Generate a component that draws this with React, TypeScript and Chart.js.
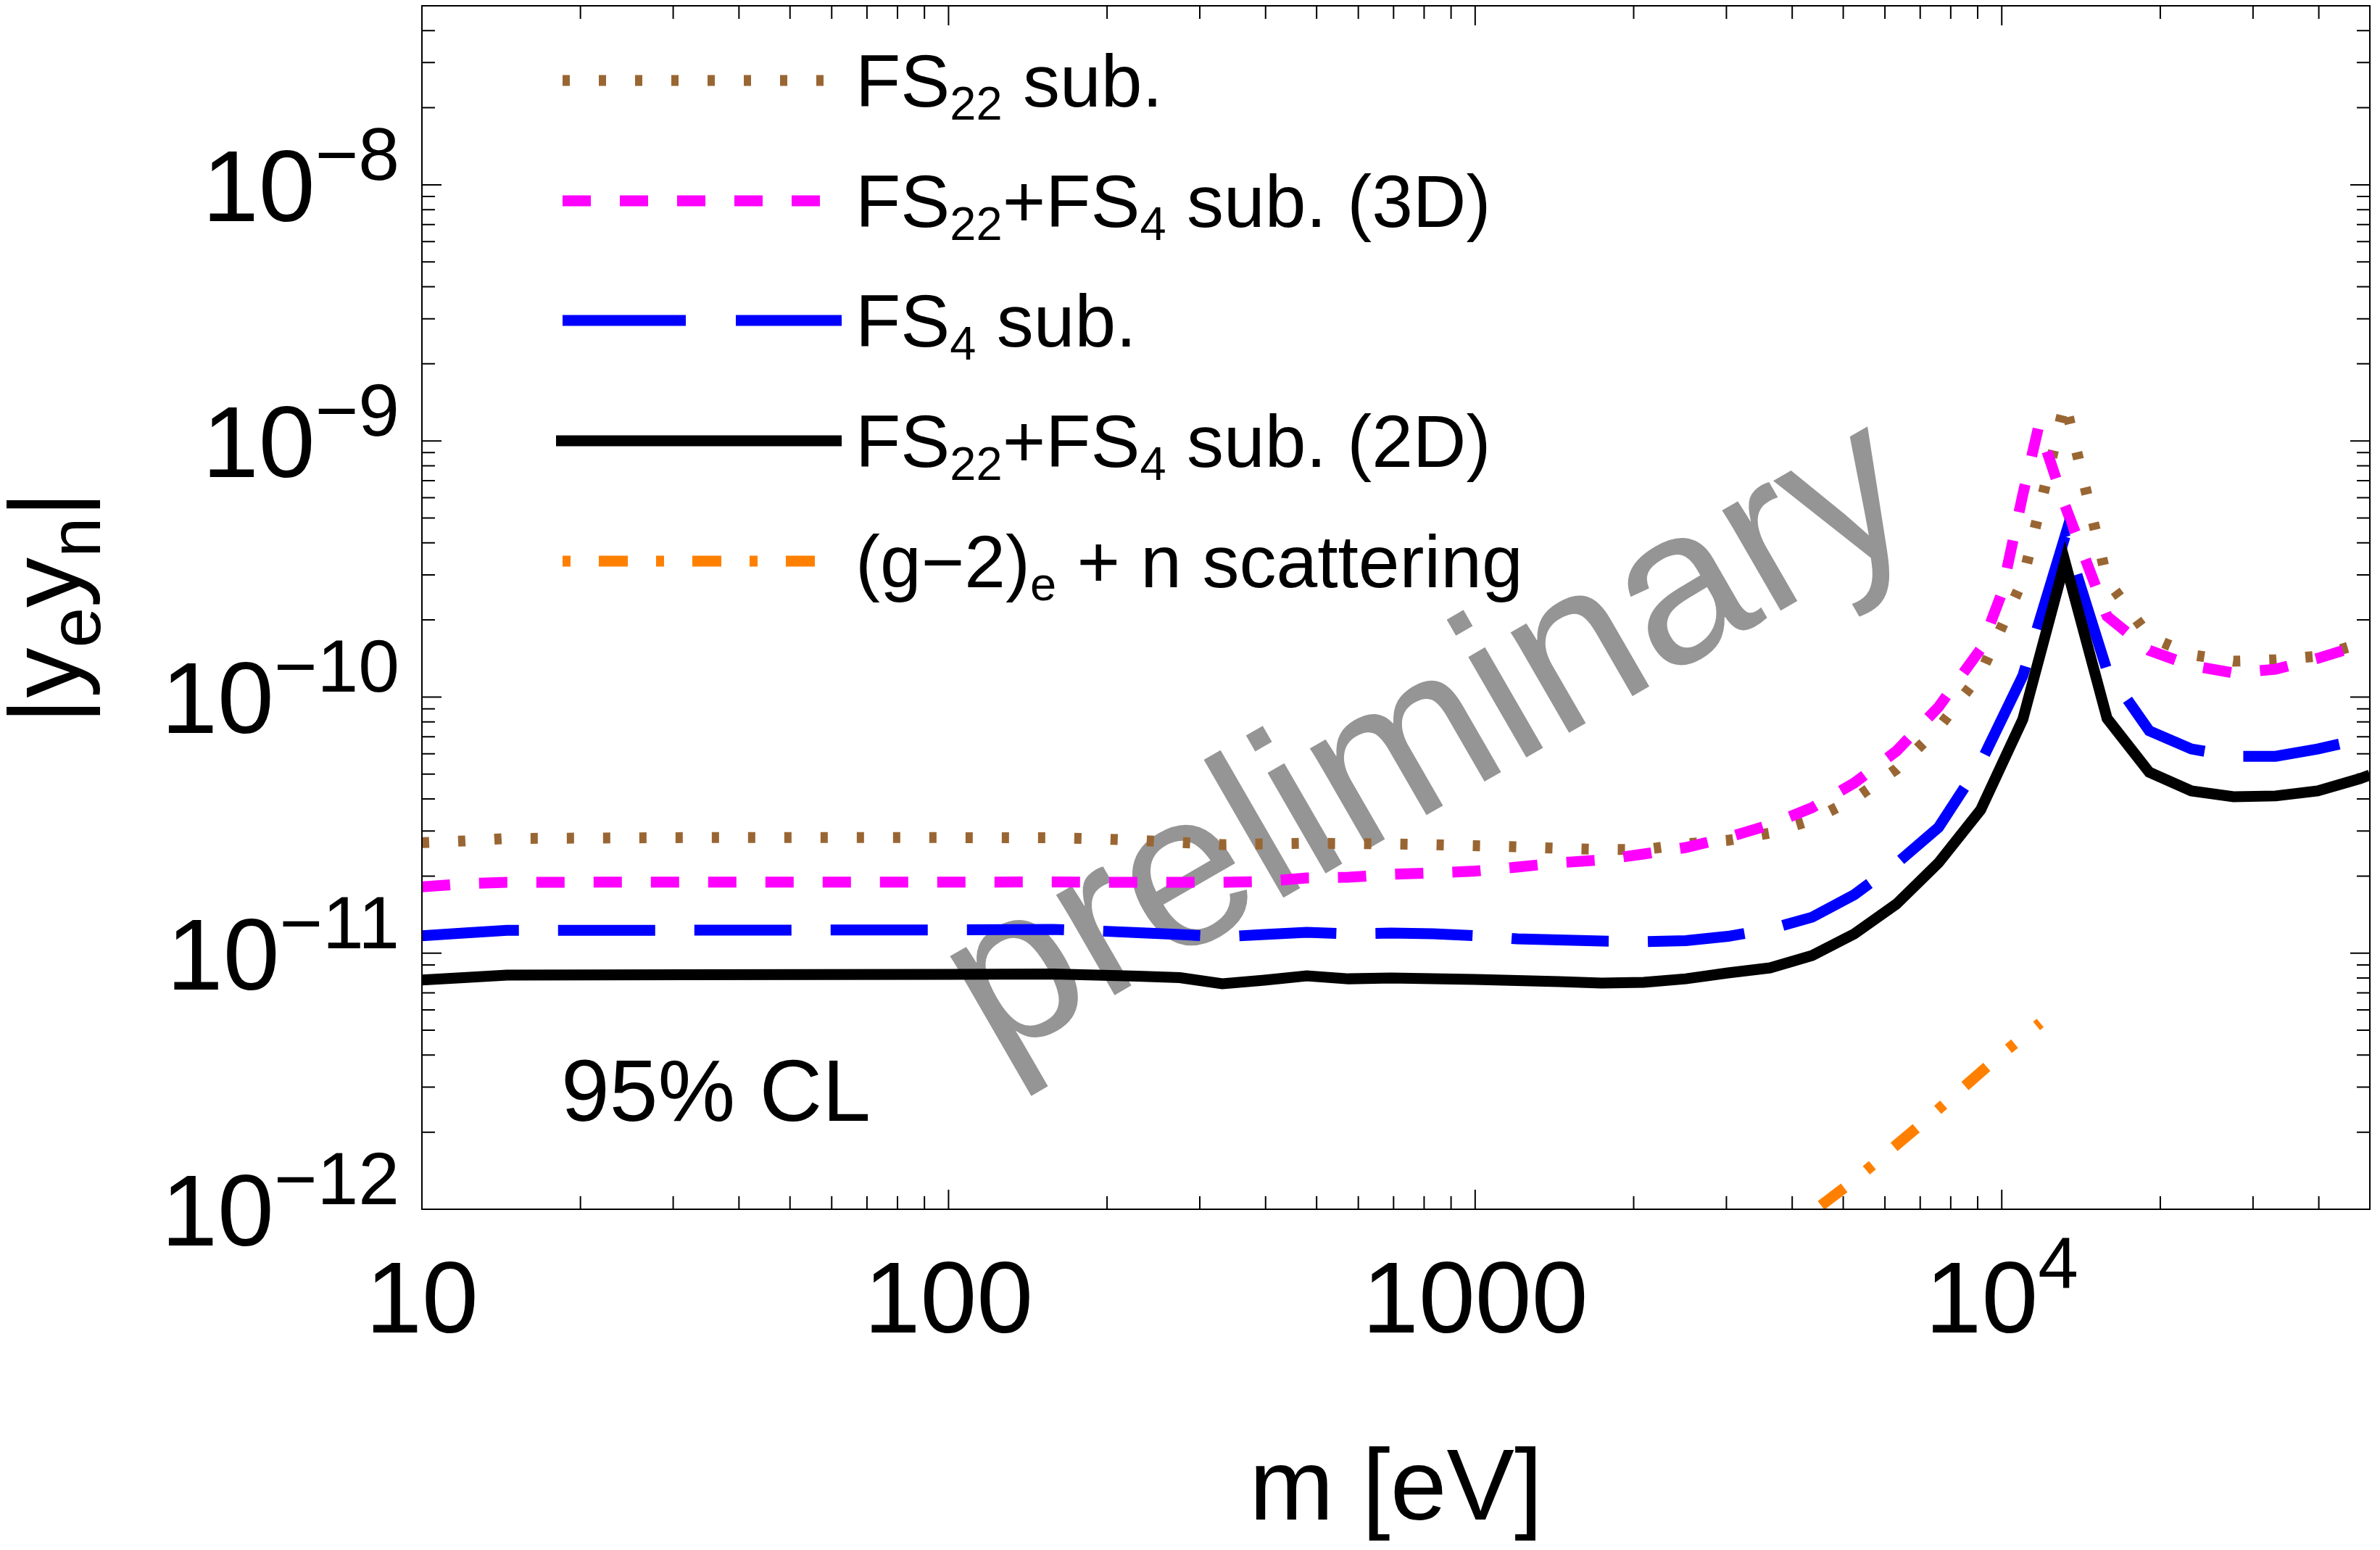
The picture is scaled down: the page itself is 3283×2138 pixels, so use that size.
import React, { useEffect, useRef } from "react";
import { Chart, registerables } from "chart.js";

Chart.register(...registerables);

// ---------------- data ----------------
// mass grid (eV) shared by most curves
const massGrid = [
  10, 12, 14.5, 31.6, 100, 158, 191, 229, 275, 331, 398, 479, 575, 692, 832,
  1000, 1202, 1445, 1738, 2089, 2512, 3020, 3631, 4365, 5248, 6310, 7586, 9120,
  10965, 13183, 15849, 19055, 22909, 27542, 33113, 39811, 47863, 50000,
];

// FS22 sub. (brown dotted)
const fs22Sub = [
  2.70e-11, 2.741e-11, 2.804e-11, 2.826e-11, 2.826e-11, 2.822e-11, 2.795e-11,
  2.759e-11, 2.705e-11, 2.653e-11, 2.67e-11, 2.688e-11, 2.679e-11, 2.67e-11,
  2.653e-11, 2.627e-11, 2.601e-11, 2.567e-11, 2.542e-11, 2.534e-11, 2.67e-11,
  2.759e-11, 2.944e-11, 3.311e-11, 4.0e-11, 5.23e-11, 7.58e-11, 1.235e-10,
  2.863e-10, 1.42e-9, 2.863e-10, 1.722e-10, 1.463e-10, 1.38e-10, 1.398e-10,
  1.444e-10, 1.613e-10, 1.667e-10,
];

// FS22+FS4 sub. (3D) (magenta dashed) - own mass list near the peak
const massFs22Fs4_3D = [
  10, 12, 14.5, 31.6, 100, 158, 191, 229, 275, 331, 398, 479, 575, 692, 832,
  1000, 1202, 1445, 1738, 2089, 2512, 3020, 3631, 4365, 5248, 6310, 7586, 9120,
  10000, 10965, 11750, 13183, 15849, 19055, 22909, 27542, 33113, 39811, 47863,
  50000,
];
const fs22Fs4Sub3D = [
  1.814e-11, 1.866e-11, 1.891e-11, 1.894e-11, 1.894e-11, 1.897e-11, 1.891e-11,
  1.891e-11, 1.891e-11, 1.891e-11, 1.903e-11, 1.966e-11, 1.978e-11, 2.031e-11,
  2.058e-11, 2.091e-11, 2.168e-11, 2.254e-11, 2.313e-11, 2.438e-11, 2.585e-11,
  2.831e-11, 3.174e-11, 3.7e-11, 4.62e-11, 6.15e-11, 9.15e-11, 1.541e-10,
  2.546e-10, 6.18e-10, 1.14e-9, 5.6e-10, 2.067e-10, 1.522e-10, 1.327e-10,
  1.243e-10, 1.284e-10, 1.416e-10, 1.592e-10, 1.645e-10,
];

// FS4 sub. (blue long dashes)
const fs4Sub = [
  1.169e-11, 1.198e-11, 1.227e-11, 1.229e-11, 1.233e-11, 1.238e-11, 1.222e-11,
  1.202e-11, 1.182e-11, 1.159e-11, 1.182e-11, 1.206e-11, 1.19e-11, 1.198e-11,
  1.19e-11, 1.169e-11, 1.137e-11, 1.126e-11, 1.115e-11, 1.108e-11, 1.119e-11,
  1.163e-11, 1.242e-11, 1.382e-11, 1.692e-11, 2.239e-11, 3.1e-11, 5.54e-11,
  1.211e-10, 4.23e-10, 1.268e-10, 7.38e-11, 6.27e-11, 5.87e-11, 5.87e-11,
  6.27e-11, 6.83e-11, 7.0e-11,
];

// FS22+FS4 sub. (2D) (black solid)
const fs22Fs4Sub2D = [
  7.86e-12, 8.03e-12, 8.21e-12, 8.24e-12, 8.26e-12, 8.29e-12, 8.21e-12,
  8.13e-12, 8.02e-12, 7.59e-12, 7.84e-12, 8.15e-12, 7.94e-12, 8.0e-12,
  7.94e-12, 7.89e-12, 7.82e-12, 7.74e-12, 7.64e-12, 7.69e-12, 7.94e-12,
  8.37e-12, 8.76e-12, 9.79e-12, 1.19e-11, 1.555e-11, 2.254e-11, 3.63e-11,
  8.19e-11, 3.38e-10, 8.25e-11, 5.09e-11, 4.3e-11, 4.08e-11, 4.11e-11,
  4.3e-11, 4.8e-11, 4.96e-11,
];

// (g-2)_e + n scattering (orange dot-dashed)
const massG2n = [4000, 5280, 7200, 9800, 11830];
const g2nScattering = [8.5e-13, 1.31e-12, 2.24e-12, 3.9e-12, 5.34e-12];

// axis ticks
const xMajorTicks = [10, 100, 1000, 10000];
const xTickLabels = [["10", ""], ["100", ""], ["1000", ""], ["10", "4"]];
const yMajorTicks = [1e-12, 1e-11, 1e-10, 1e-9, 1e-8];
const yTickLabels = [
  ["10", "\u221212"],
  ["10", "\u221211"],
  ["10", "\u221210"],
  ["10", "\u22129"],
  ["10", "\u22128"],
];

// legend labels: [text, isSubscript]
type Seg = [string, boolean];
const legendLabels: Seg[][] = [
  [["FS", false], ["22", true], [" sub.", false]],
  [["FS", false], ["22", true], ["+FS", false], ["4", true], [" sub. (3D)", false]],
  [["FS", false], ["4", true], [" sub.", false]],
  [["FS", false], ["22", true], ["+FS", false], ["4", true], [" sub. (2D)", false]],
  [["(g\u22122)", false], ["e", true], [" + n scattering", false]],
];

// ---------------- styles ----------------
const FONT = '"Liberation Sans", Arial, Helvetica, sans-serif';
const f = (px: number) => `${px}px ${FONT}`;

const seriesStyles = [
  { color: "#996633", dash: [10, 40], legendDash: [10, 40] },
  { color: "#ff00ff", dash: [39, 40], legendDash: [39, 40] },
  { color: "#0000ff", dash: [134, 54], legendDash: [170, 69] },
  { color: "#000000", dash: [], legendDash: [] },
  { color: "#ff8000", dash: [11, 39, 40, 39], legendDash: [11, 39, 40, 39] },
];

const LINE_W = 15;

function drawRich(
  ctx: CanvasRenderingContext2D,
  segs: Seg[],
  x: number,
  y: number,
  size: number,
  subSize: number,
  subShift: number,
  align: "left" | "center"
) {
  let total = 0;
  const widths = segs.map(([t, sub]) => {
    ctx.font = f(sub ? subSize : size);
    const w = ctx.measureText(t).width;
    total += w;
    return w;
  });
  let cx = align === "center" ? x - total / 2 : x;
  ctx.textAlign = "left";
  ctx.textBaseline = "alphabetic";
  segs.forEach(([t, sub], i) => {
    ctx.font = f(sub ? subSize : size);
    ctx.fillText(t, cx, sub ? y + subShift : y);
    cx += widths[i];
  });
}

function drawPow(
  ctx: CanvasRenderingContext2D,
  base: string,
  exp: string,
  x: number,
  y: number,
  align: "right" | "center",
  baseSize: number,
  expSize: number,
  rise: number
) {
  ctx.font = f(baseSize);
  const wb = ctx.measureText(base).width;
  ctx.font = f(expSize);
  const we = exp ? ctx.measureText(exp).width : 0;
  const total = wb + we;
  const x0 = align === "right" ? x - total : x - total / 2;
  ctx.textAlign = "left";
  ctx.textBaseline = "alphabetic";
  ctx.font = f(baseSize);
  ctx.fillText(base, x0, y);
  if (exp) {
    ctx.font = f(expSize);
    ctx.fillText(exp, x0 + wb, y - rise);
  }
}

const overlayPlugin = {
  id: "overlay",
  beforeDatasetsDraw(chart: any) {
    const { ctx, chartArea: a } = chart;
    ctx.save();
    ctx.beginPath();
    ctx.rect(a.left, a.top, a.right - a.left, a.bottom - a.top);
    ctx.clip();
    ctx.translate(2015, 1097);
    ctx.rotate((-30 * Math.PI) / 180);
    ctx.font = f(303);
    ctx.fillStyle = "#959595";
    ctx.textAlign = "center";
    ctx.textBaseline = "alphabetic";
    ctx.fillText("preliminary", 0, 0);
    ctx.restore();
  },
  afterDraw(chart: any) {
    const { ctx, chartArea: a, scales } = chart;
    const xs = scales.x;
    const ys = scales.y;
    ctx.save();
    ctx.setLineDash([]);
    ctx.strokeStyle = "#000";
    ctx.fillStyle = "#000";
    ctx.lineWidth = 2;
    ctx.lineCap = "butt";
    ctx.strokeRect(a.left, a.top, a.right - a.left, a.bottom - a.top);

    const MAJ = 27;
    const MIN = 18;
    const xMax = xs.max;
    const yMax = ys.max;
    // x ticks
    const xTick = (v: number, len: number) => {
      const px = xs.getPixelForValue(v);
      ctx.beginPath();
      ctx.moveTo(px, a.bottom);
      ctx.lineTo(px, a.bottom - len);
      ctx.moveTo(px, a.top);
      ctx.lineTo(px, a.top + len);
      ctx.stroke();
    };
    xMajorTicks.forEach((d) => {
      xTick(d, MAJ);
      for (let k = 2; k <= 9; k++) if (k * d <= xMax) xTick(k * d, MIN);
    });
    const yTick = (v: number, len: number) => {
      const py = ys.getPixelForValue(v);
      ctx.beginPath();
      ctx.moveTo(a.left, py);
      ctx.lineTo(a.left + len, py);
      ctx.moveTo(a.right, py);
      ctx.lineTo(a.right - len, py);
      ctx.stroke();
    };
    yMajorTicks.forEach((d) => {
      yTick(d, MAJ);
      for (let k = 2; k <= 9; k++) if (k * d <= yMax * 1.0001) yTick(k * d, MIN);
    });

    // tick labels
    xMajorTicks.forEach((v, i) => {
      const px = xs.getPixelForValue(v);
      drawPow(ctx, xTickLabels[i][0], xTickLabels[i][1], px, a.bottom + 170, "center", 140, 100, 61);
    });
    yMajorTicks.forEach((v, i) => {
      const py = ys.getPixelForValue(v);
      drawPow(ctx, yTickLabels[i][0], yTickLabels[i][1], a.left - 31, py + 50, "right", 140, 102, 57);
    });

    // axis titles
    ctx.textAlign = "center";
    ctx.font = f(140);
    ctx.fillText("m [eV]", (a.left + a.right) / 2, 2096);
    ctx.save();
    ctx.translate(109, (a.top + a.bottom) / 2);
    ctx.rotate(-Math.PI / 2);
    drawRich(
      ctx,
      [["|", false], ["y", false], ["e", true], ["y", false], ["n", true], ["|", false]],
      0,
      0,
      138,
      100,
      29,
      "center"
    );
    ctx.restore();

    // 95% CL
    ctx.textAlign = "left";
    ctx.font = f(120);
    ctx.fillText("95% CL", 774, 1546);

    // legend
    const baselines = [147, 313, 478, 644, 810];
    legendLabels.forEach((segs, i) => {
      const st = seriesStyles[i];
      const ly = baselines[i] - 36;
      ctx.save();
      ctx.strokeStyle = st.color;
      ctx.lineWidth = LINE_W;
      ctx.lineCap = "butt";
      ctx.setLineDash(st.legendDash);
      ctx.beginPath();
      ctx.moveTo(i === 3 ? 767 : 776, ly);
      ctx.lineTo(1161, ly);
      ctx.stroke();
      ctx.restore();
      ctx.fillStyle = "#000";
      drawRich(ctx, segs, 1180, baselines[i], 102, 65, 18, "left");
    });
    ctx.restore();
  },
};

export default function App() {
  const ref = useRef<HTMLCanvasElement>(null);
  useEffect(() => {
    const canvas = ref.current!;
    const pair = (xsArr: number[], ysArr: number[]) =>
      xsArr.map((m, i) => ({ x: m, y: ysArr[i] }));
    const mk = (label: string, data: any[], idx: number, order: number) => ({
      label,
      data,
      borderColor: seriesStyles[idx].color,
      backgroundColor: seriesStyles[idx].color,
      borderWidth: LINE_W,
      borderDash: seriesStyles[idx].dash,
      borderCapStyle: "butt",
      borderJoinStyle: "miter",
      pointRadius: 0,
      pointHoverRadius: 0,
      tension: 0,
      fill: false,
      clip: 0,
      order,
    });
    const chart = new Chart(canvas, {
      type: "line",
      data: {
        datasets: [
          mk("FS22 sub.", pair(massGrid, fs22Sub), 0, 5),
          mk("FS22+FS4 sub. (3D)", pair(massFs22Fs4_3D, fs22Fs4Sub3D), 1, 4),
          mk("FS4 sub.", pair(massGrid, fs4Sub), 2, 3),
          mk("FS22+FS4 sub. (2D)", pair(massGrid, fs22Fs4Sub2D), 3, 2),
          mk("(g-2)e + n scattering", pair(massG2n, g2nScattering), 4, 1),
        ] as any,
      },
      options: {
        responsive: false,
        maintainAspectRatio: false,
        devicePixelRatio: 1,
        animation: false,
        events: [],
        layout: { padding: { left: 0, right: 14, top: 8, bottom: 0 } },
        plugins: {
          legend: { display: false },
          tooltip: { enabled: false },
          title: { display: false },
        },
        scales: {
          x: {
            type: "logarithmic",
            min: 10,
            max: 50000,
            grid: { display: false },
            border: { display: false },
            ticks: { display: false },
            afterFit: (s: any) => {
              s.height = 470;
            },
          },
          y: {
            type: "logarithmic",
            min: 1e-12,
            max: 5e-8,
            grid: { display: false },
            border: { display: false },
            ticks: { display: false },
            afterFit: (s: any) => {
              s.width = 582;
            },
          },
        },
      } as any,
      plugins: [overlayPlugin],
    });
    return () => chart.destroy();
  }, []);
  return (
    <canvas
      ref={ref}
      width={3283}
      height={2138}
      style={{ position: "absolute", left: 0, top: 0, width: "3283px", height: "2138px", display: "block" }}
    />
  );
}
